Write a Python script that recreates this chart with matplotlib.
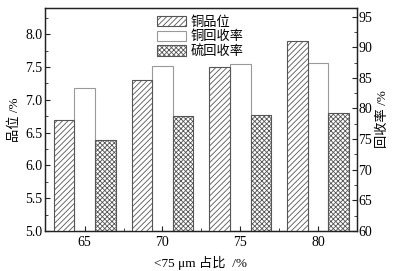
import matplotlib
matplotlib.use("Agg")
import matplotlib.pyplot as plt
import numpy as np
from matplotlib.ticker import MultipleLocator

plt.rcParams['font.family'] = ['Liberation Serif', 'Noto Sans CJK SC']
plt.rcParams['hatch.linewidth'] = 0.6
plt.rcParams['hatch.color'] = '#555555'

categories = ['65', '70', '75', '80']
cu_grade = [6.7, 7.3, 7.5, 7.9]
cu_recovery = [83.4, 86.9, 87.2, 87.4]
s_recovery = [74.9, 78.7, 79.0, 79.3]
labels = ['铜品位', '铜回收率', '硫回收率']

fig = plt.figure(figsize=(4.06, 2.71), dpi=100)
ax1 = fig.add_axes([45/406, 1-231/271, 312/406, 223/271])
ax2 = ax1.twinx()

x = np.arange(len(categories))
w = 0.265
ec = '#555555'
b1 = ax1.bar(x - w, cu_grade, w, bottom=0, color='white', edgecolor=ec, hatch='//////', linewidth=0.8)
b2 = ax2.bar(x, cu_recovery, w, color='white', edgecolor='#999999', linewidth=0.8)
b3 = ax2.bar(x + w, s_recovery, w, color='white', edgecolor=ec, hatch='xxxxxxx', linewidth=0.8)

ax1.set_ylim(5.0, 8.4)
ax2.set_ylim(60, 96.4)
ax1.set_xlim(-0.51, 3.5)
ax1.set_xticks(x)
ax1.set_xticklabels(categories)
ax1.set_xticks(x[:-1] + 0.5, minor=True)
ax1.yaxis.set_major_locator(MultipleLocator(0.5))
ax1.yaxis.set_minor_locator(MultipleLocator(0.25))
ax2.yaxis.set_major_locator(MultipleLocator(5))
ax2.yaxis.set_minor_locator(MultipleLocator(2.5))

fs = 10
for ax in (ax1, ax2):
    ax.tick_params(axis='both', which='both', direction='in', labelsize=fs, color='#222222')
    ax.tick_params(which='major', length=3.5, width=0.8)
    ax.tick_params(which='minor', length=2, width=0.6)
    for s in ax.spines.values():
        s.set_linewidth(0.9)
        s.set_color('#222222')
ax1.yaxis.set_major_formatter(matplotlib.ticker.FormatStrFormatter('%.1f'))
ax1.tick_params(axis='y', pad=2)
ax2.tick_params(axis='y', pad=1)

ax1.set_ylabel('品位 /%', fontsize=fs - 0.5, labelpad=3)
ax2.set_ylabel('回收率 /%', fontsize=fs - 0.5, labelpad=3)
ax1.set_xlabel('<75 μm 占比  /%', fontsize=fs - 0.5, labelpad=5)

leg = ax1.legend([b1, b2, b3], labels, loc='upper left', bbox_to_anchor=(0.335, 1.0),
                 frameon=False, fontsize=fs - 0.5, handlelength=2.2, handleheight=0.8,
                 labelspacing=0.15, handletextpad=0.3, borderaxespad=0.2)
ax1.set_zorder(ax2.get_zorder() + 1)
ax1.patch.set_visible(False)

fig.savefig('out.png', dpi=100)
